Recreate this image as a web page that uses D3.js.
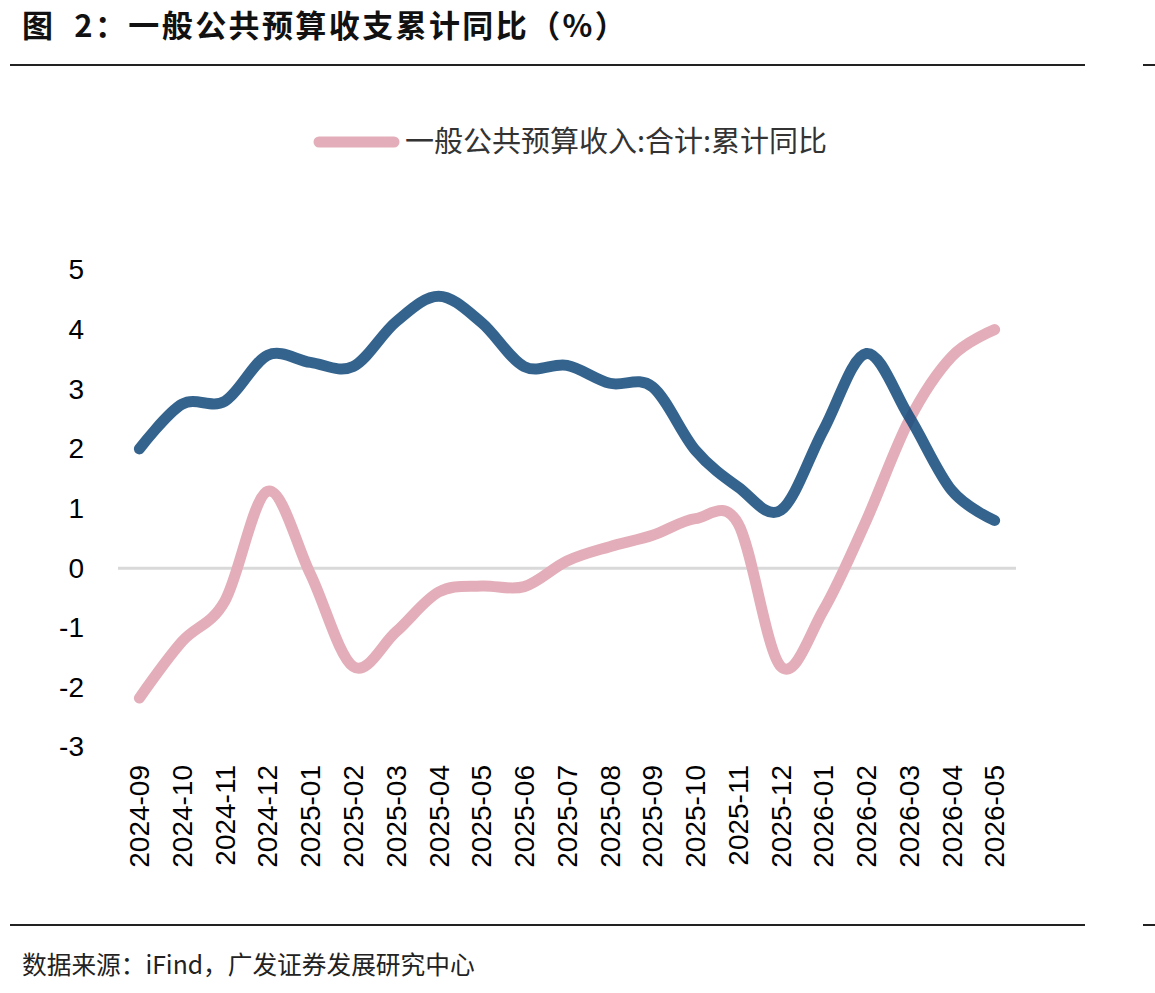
<!DOCTYPE html>
<html>
<head>
<meta charset="utf-8">
<script src="https://cdn.jsdelivr.net/npm/d3@7"></script>
<style>
  body { margin: 0; background: #fff; }
  svg { display: block; }
</style>
</head>
<body>
<div id="container"></div>
<script>
// width and height
var width = 1155;
var height = 993;

// data
var months = ["2024-09", "2024-10", "2024-11", "2024-12", "2025-01", "2025-02", "2025-03",
              "2025-04", "2025-05", "2025-06", "2025-07", "2025-08", "2025-09", "2025-10",
              "2025-11", "2025-12", "2026-01", "2026-02", "2026-03", "2026-04", "2026-05"];
var revenue = [-2.18, -1.23, -0.55, 1.29, -0.1, -1.65, -1.07, -0.4, -0.3, -0.31, 0.12,
               0.36, 0.55, 0.83, 0.75, -1.65, -0.7, 0.8, 2.48, 3.55, 4.0];
var spending = [2.0, 2.75, 2.8, 3.57, 3.45, 3.38, 4.13, 4.56, 4.12, 3.38, 3.4,
                3.1, 3.04, 1.98, 1.36, 0.97, 2.32, 3.6, 2.54, 1.3, 0.8];
var yTicks = [-3, -2, -1, 0, 1, 2, 3, 4, 5];

var titleText = "图  2：一般公共预算收支累计同比（%）";
var legendText = "一般公共预算收入:合计:累计同比";
var sourceText = "数据来源：iFind，广发证券发展研究中心";

var cjk = "'Noto Sans CJK SC', 'Noto Sans', sans-serif";
var latin = "'Liberation Sans', Arial, sans-serif";

var svg = d3.select("#container")
            .append("svg")
            .attr("width", width)
            .attr("height", height);

// title and rules
svg.append("text")
   .attr("x", 22)
   .attr("y", 37)
   .style("font-family", cjk)
   .style("font-weight", "bold")
   .style("font-size", "31px")
   .style("letter-spacing", "2.4px")
   .style("white-space", "pre")
   .attr("fill", "#111")
   .text(titleText);

[65, 925].forEach(function(y) {
  svg.append("line")
     .attr("x1", 10).attr("x2", 1085)
     .attr("y1", y).attr("y2", y)
     .attr("stroke", "#222").attr("stroke-width", 2);
  svg.append("line")
     .attr("x1", 1143).attr("x2", 1155)
     .attr("y1", y).attr("y2", y)
     .attr("stroke", "#222").attr("stroke-width", 2);
});

svg.append("text")
   .attr("x", 22)
   .attr("y", 974)
   .style("font-family", cjk)
   .style("font-size", "24.7px")
   .attr("fill", "#222")
   .text(sourceText);

// scales
var x = d3.scaleBand()
          .domain(months)
          .range([118, 1016]);
var y = d3.scaleLinear()
          .domain([-3, 5])
          .range([747, 270]);

function cx(d) { return x(d) + x.bandwidth() / 2; }

// zero line
svg.append("line")
   .attr("x1", 118).attr("x2", 1016)
   .attr("y1", y(0)).attr("y2", y(0))
   .attr("stroke", "#d9d9d9")
   .attr("stroke-width", 3);

// y axis labels (plain hyphen for negatives)
var yAxis = d3.axisLeft(y)
              .tickValues(yTicks)
              .tickFormat(function(d) { return String(d); })
              .tickSize(0)
              .tickPadding(0);
var gy = svg.append("g")
            .attr("transform", "translate(84,0)")
            .call(yAxis);
gy.select(".domain").remove();
gy.selectAll("text")
  .style("font-family", latin)
  .style("font-size", "28px")
  .attr("fill", "#000");

// x axis labels
var xAxis = d3.axisBottom(x)
              .tickSize(0)
              .tickPadding(0);
var gx = svg.append("g")
            .attr("transform", "translate(0,765)")
            .call(xAxis);
gx.select(".domain").remove();
gx.selectAll("text")
  .attr("transform", "rotate(-90)")
  .attr("x", 0)
  .attr("y", 0)
  .attr("dy", "0.35em")
  .style("text-anchor", "end")
  .style("font-family", latin)
  .style("font-size", "28px")
  .attr("fill", "#000");

// lines
var line = d3.line()
             .x(function(d, i) { return cx(months[i]); })
             .y(function(d) { return y(d); })
             .curve(d3.curveCardinal.tension(0));

svg.append("path")
   .datum(revenue)
   .attr("d", line)
   .attr("fill", "none")
   .attr("stroke", "#e3aeb9")
   .attr("stroke-width", 11)
   .attr("stroke-linecap", "round")
   .attr("stroke-linejoin", "round");

svg.append("path")
   .datum(spending)
   .attr("d", line)
   .attr("fill", "none")
   .attr("stroke", "#10497a")
   .attr("stroke-opacity", 0.85)
   .attr("stroke-width", 11)
   .attr("stroke-linecap", "round")
   .attr("stroke-linejoin", "round");

// legend
svg.append("line")
   .attr("x1", 319).attr("x2", 394)
   .attr("y1", 142).attr("y2", 142)
   .attr("stroke", "#e3aeb9")
   .attr("stroke-width", 11)
   .attr("stroke-linecap", "round");

svg.append("text")
   .attr("x", 405)
   .attr("y", 142)
   .attr("dy", "0.36em")
   .style("font-family", cjk)
   .style("font-size", "29px")
   .attr("fill", "#333")
   .text(legendText);
</script>
</body>
</html>
